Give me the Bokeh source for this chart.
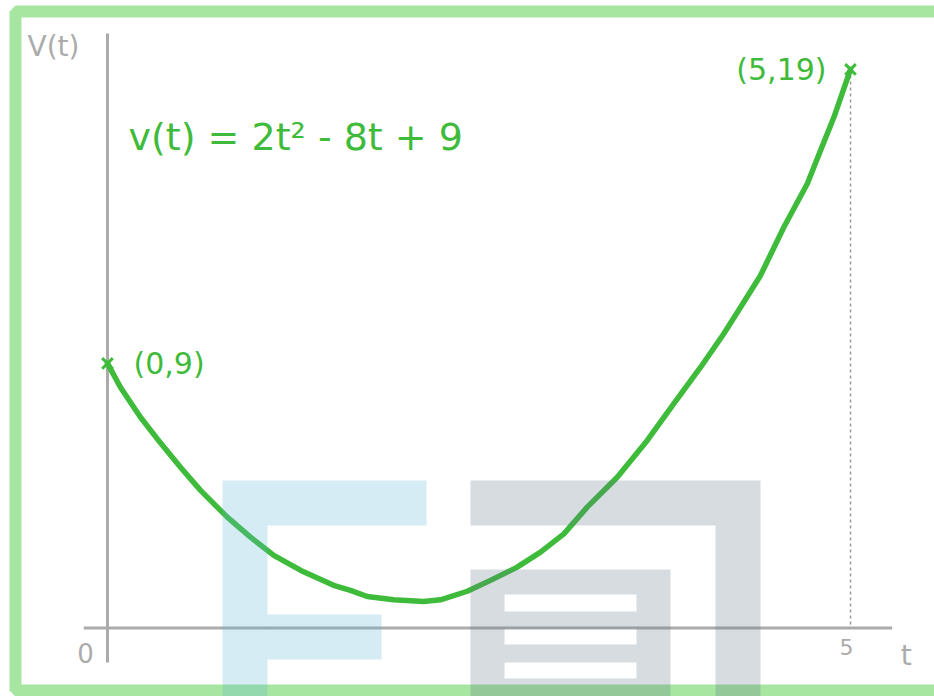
from bokeh.plotting import figure
from bokeh.models import Range1d, ColumnDataSource
from bokeh.core.properties import value
from bokeh.embed import file_html
from bokeh.resources import INLINE

# --- data: sketched velocity curve v(t) = 2t^2 - 8t + 9 ---
t_vals = [0.0, 0.087, 0.222, 0.334, 0.491, 0.626, 0.806, 0.962, 1.119, 1.301,
          1.521, 1.635, 1.748, 1.925, 2.127, 2.241, 2.421, 2.577, 2.757, 2.914,
          3.071, 3.228, 3.430, 3.632, 3.811, 3.991, 4.147, 4.260, 4.394, 4.551,
          4.709, 4.798, 4.888, 5.0]
v_vals = [9.0, 8.19, 7.17, 6.44, 5.47, 4.68, 3.77, 3.09, 2.47, 1.96,
          1.45, 1.28, 1.07, 0.96, 0.90, 0.96, 1.25, 1.62, 2.07, 2.58,
          3.20, 4.11, 5.13, 6.38, 7.63, 8.87, 10.01, 10.91, 11.99, 13.63,
          15.11, 16.24, 17.37, 19.0]

point_t = [0, 5]
point_v = [9, 19]
point_labels = ["(0,9)", "(5,19)"]

equation = "v(t) = 2t² - 8t + 9"
x_tick_vals = [5]
x_tick_labels = ["5"]
origin_label = "0"
x_axis_label = "t"
y_axis_label = "V(t)"

# axis extents
y_axis_span = (-1.17, 20.22)
x_axis_span = (-0.16, 5.28)

GREEN = "#3fbb3b"
GREY = "#ababab"
FONT = value("DejaVu Sans")

W, H = 934, 696

p = figure(width=W, height=H, output_backend="svg", toolbar_location=None,
           x_range=Range1d(-0.720, 5.565), y_range=Range1d(-2.330, 21.344),
           min_border=0, outline_line_color=None, background_fill_color="white",
           border_fill_color="white")
p.axis.visible = False
p.grid.visible = False
# screen-space ranges for page decoration
p.extra_x_ranges = {"px": Range1d(0, W)}
p.extra_y_ranges = {"px": Range1d(H, 0)}

# frame border
p.quad(left=[15], right=[945], top=[11], bottom=[690], fill_color=None,
       line_color="#a6e6a1", line_width=12, x_range_name="px", y_range_name="px")

# axes
p.segment(x0=[0], y0=[y_axis_span[0]], x1=[0], y1=[y_axis_span[1]],
          line_color=GREY, line_width=3)
p.segment(x0=[x_axis_span[0]], y0=[0], x1=[x_axis_span[1]], y1=[0],
          line_color=GREY, line_width=3)

# dotted guide from the end point down to the t-axis
p.segment(x0=[point_t[1]], y0=[point_v[1]], x1=[point_t[1]], y1=[0],
          line_color="#9a9a9a", line_width=1.5, line_dash="3 3")

# curve
p.line(t_vals, v_vals, line_color=GREEN, line_width=5.5, line_cap="round",
       line_join="round")

# end points
p.scatter(point_t, point_v, marker="x", size=15, line_color=GREEN, line_width=3)

pts = ColumnDataSource(dict(t=point_t, v=point_v, label=point_labels,
                            align=["left", "right"], dx=[26, -24]))
p.text(x="t", y="v", text="label", source=pts, x_offset="dx", y_offset=0,
       text_align="align", text_baseline="middle", text_color=GREEN,
       text_font=FONT, text_font_size=value("30px"))

# equation
p.text(x=[0.141], y=[16.7], text=[equation], text_align="left",
       text_baseline="middle", text_color=GREEN,
       text_font=FONT, text_font_size=value("38px"))

# axis labels
p.text(x=x_tick_vals, y=[0] * len(x_tick_vals), text=x_tick_labels, y_offset=19,
       x_offset=-4, text_align="center", text_baseline="middle", text_color=GREY,
       text_font=FONT, text_font_size=value("22px"))
p.text(x=[0], y=[0], text=[origin_label], x_offset=-22, y_offset=25,
       text_align="center", text_baseline="middle", text_color=GREY,
       text_font=FONT, text_font_size=value("26px"))
p.text(x=[x_axis_span[1]], y=[0], text=[x_axis_label], x_offset=14, y_offset=28,
       text_align="center", text_baseline="middle", text_color=GREY,
       text_font=FONT, text_font_size=value("28px"))
p.text(x=[0], y=[y_axis_span[1]], text=[y_axis_label], x_offset=-80, y_offset=13,
       text_align="left", text_baseline="middle", text_color=GREY,
       text_font=FONT, text_font_size=value("28px"))

# translucent watermark overlay
blue_l = [222, 267, 267]
blue_r = [267, 426, 381]
blue_t = [480, 480, 614]
blue_b = [696, 525, 659]
p.quad(left=blue_l, right=blue_r, top=blue_t, bottom=blue_b,
       fill_color="#5bb3d7", fill_alpha=0.25, line_color=None,
       x_range_name="px", y_range_name="px")

grey_l = [470, 715, 470, 636, 504, 504, 504, 504]
grey_r = [760, 760, 504, 670, 636, 636, 636, 636]
grey_t = [480, 525, 569, 569, 569, 611, 644, 678]
grey_b = [525, 696, 696, 696, 594, 628, 662, 696]
p.quad(left=grey_l, right=grey_r, top=grey_t, bottom=grey_b,
       fill_color="#5b7383", fill_alpha=0.25, line_color=None,
       x_range_name="px", y_range_name="px")

open("out.html", "w").write(file_html(p, INLINE))
